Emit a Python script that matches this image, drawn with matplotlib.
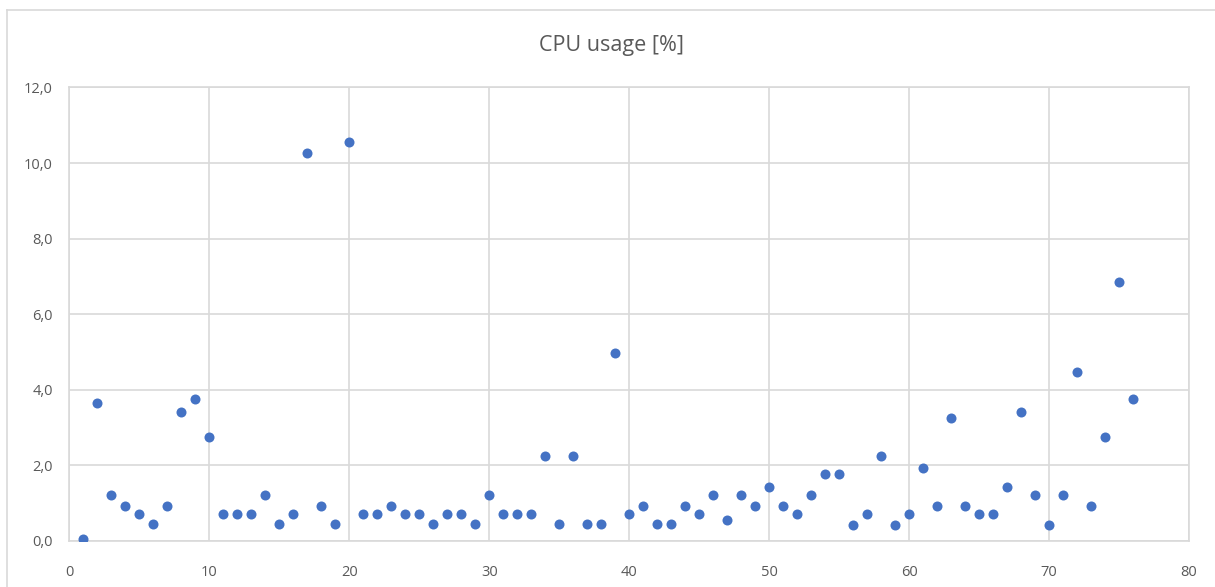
import matplotlib
matplotlib.use("Agg")
import matplotlib.pyplot as plt
from matplotlib.lines import Line2D
from matplotlib.ticker import FuncFormatter

# sample index
sample = list(range(1, 77))
# CPU usage in percent
cpu = [0.05, 3.64, 1.21, 0.93, 0.71, 0.44, 0.93, 3.42, 3.75, 2.75,
       0.71, 0.71, 0.71, 1.21, 0.44, 0.71, 10.28, 0.93, 0.44, 10.56,
       0.71, 0.71, 0.93, 0.71, 0.71, 0.44, 0.71, 0.71, 0.44, 1.21,
       0.71, 0.71, 0.71, 2.26, 0.44, 2.26, 0.44, 0.44, 4.97, 0.71,
       0.93, 0.44, 0.44, 0.93, 0.71, 1.21, 0.55, 1.21, 0.93, 1.43,
       0.93, 0.71, 1.21, 1.76, 1.76, 0.43, 0.71, 2.26, 0.43, 0.71,
       1.92, 0.93, 3.25, 0.93, 0.71, 0.71, 1.42, 3.42, 1.21, 0.43,
       1.21, 4.47, 0.93, 2.76, 6.85, 3.76]

x_ticks = [0, 10, 20, 30, 40, 50, 60, 70, 80]
y_ticks = [0, 2, 4, 6, 8, 10, 12]

plt.rcParams['font.family'] = ['Open Sans', 'DejaVu Sans']
grey_txt = '#595959'
grid_col = '#d9d9d9'

fig = plt.figure(figsize=(12.15, 5.87), dpi=100)
ax = fig.add_axes([69.3 / 1215, (587 - 541) / 587, (1189 - 69.3) / 1215, (541 - 87.5) / 587])

ax.scatter(sample, cpu, s=52, color='#4472C4', zorder=3, linewidths=0)

ax.set_xlim(0, 80)
ax.set_ylim(0, 12)
ax.set_xticks(x_ticks)
ax.set_yticks(y_ticks)
ax.yaxis.set_major_formatter(FuncFormatter(lambda v, p: f"{v:.1f}".replace('.', ',')))
ax.grid(True, color=grid_col, linewidth=1.2, zorder=0)
ax.tick_params(length=0, labelsize=10.5, colors=grey_txt)
ax.tick_params(axis='x', pad=17)
ax.tick_params(axis='y', pad=12)
for s in ax.spines.values():
    s.set_color(grid_col)
    s.set_linewidth(1.2)

fig.text(612 / 1215, 1 - 45 / 587, 'CPU usage [%]', ha='center', va='center',
         fontsize=15.5, color=grey_txt)

# outer chart frame (only top and left edges are visible in the crop)
fig.add_artist(Line2D([7 / 1215, 7 / 1215], [0, 1 - 10 / 587], color=grid_col, lw=1.2))
fig.add_artist(Line2D([7 / 1215, 1], [1 - 10 / 587, 1 - 10 / 587], color=grid_col, lw=1.2))

fig.savefig('out.png', dpi=100, facecolor='white')
